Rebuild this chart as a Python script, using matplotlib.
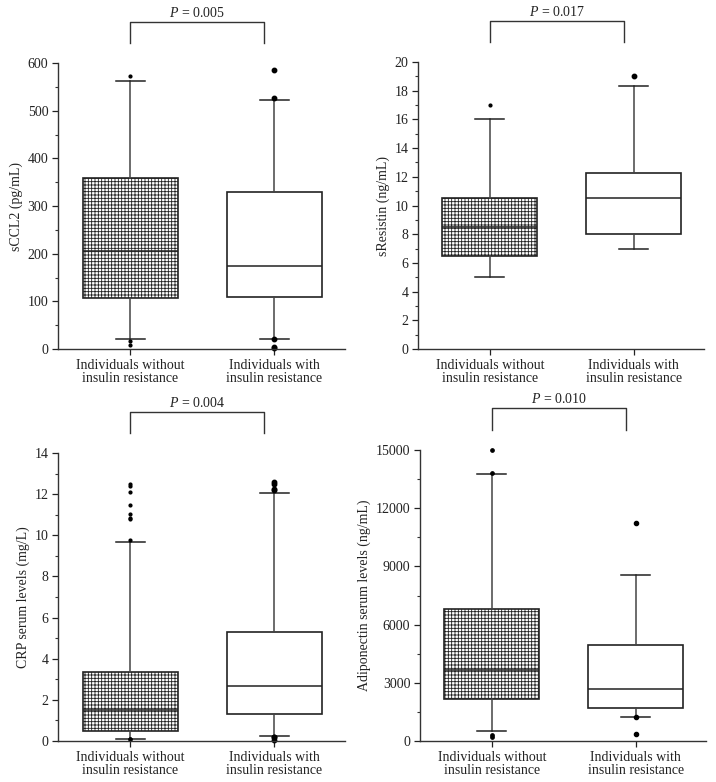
import matplotlib
matplotlib.use("Agg")
import matplotlib.pyplot as plt
from matplotlib.ticker import MultipleLocator
from matplotlib.transforms import blended_transform_factory

plt.rcParams['font.family'] = ['Liberation Serif', 'DejaVu Serif']
plt.rcParams['mathtext.fontset'] = 'custom'
plt.rcParams['mathtext.rm'] = 'Liberation Serif'
plt.rcParams['mathtext.it'] = 'Liberation Serif:italic'
plt.rcParams['hatch.linewidth'] = 0.6
plt.rcParams['hatch.color'] = '#111111'

groups = ["Individuals without\ninsulin resistance", "Individuals with\ninsulin resistance"]

# Panel A: sCCL2 (pg/mL)
ccl2_whislo = [22, 22]
ccl2_q1 = [108, 110]
ccl2_med = [205, 175]
ccl2_q3 = [358, 330]
ccl2_whishi = [563, 522]
ccl2_fliers = [[572, 16, 8], [585, 527, 22, 5, 3]]

# Panel B: sResistin (ng/mL)
res_whislo = [5, 7]
res_q1 = [6.5, 8]
res_med = [8.5, 10.5]
res_q3 = [10.5, 12.25]
res_whishi = [16, 18.3]
res_fliers = [[17], [19]]

# Panel C: CRP (mg/L)
crp_whislo = [0.12, 0.25]
crp_q1 = [0.5, 1.3]
crp_med = [1.5, 2.68]
crp_q3 = [3.35, 5.3]
crp_whishi = [9.65, 12.05]
crp_fliers = [[12.49, 12.41, 12.1, 11.47, 11.03, 10.84, 10.79, 9.77, 0.1, 0.08, 0.12],
              [12.6, 12.5, 12.25, 12.2, 0.2, 0.18, 0.05]]

# Panel D: Adiponectin (ng/mL)
adi_whislo = [500, 1250]
adi_q1 = [2150, 1700]
adi_med = [3650, 2700]
adi_q3 = [6800, 4950]
adi_whishi = [13750, 8550]
adi_fliers = [[15000, 13800, 300, 200], [11250, 1250, 350]]

p_values = ["0.005", "0.017", "0.004", "0.010"]
ylabels = ["sCCL2 (pg/mL)", "sResistin (ng/mL)", "CRP serum levels (mg/L)",
           "Adiponectin serum levels (ng/mL)"]
ylims = [(0, 600), (0, 20), (0, 14), (0, 15000)]
major = [100, 2, 2, 3000]
minor = [50, 1, 1, 1500]

panels = [
    (ccl2_whislo, ccl2_q1, ccl2_med, ccl2_q3, ccl2_whishi, ccl2_fliers),
    (res_whislo, res_q1, res_med, res_q3, res_whishi, res_fliers),
    (crp_whislo, crp_q1, crp_med, crp_q3, crp_whishi, crp_fliers),
    (adi_whislo, adi_q1, adi_med, adi_q3, adi_whishi, adi_fliers),
]
flier_sizes = [(2.0, 3.2), (2.0, 3.2), (2.0, 3.2), (2.4, 3.0)]

W, H = 716, 782
fig = plt.figure(figsize=(W / 100, H / 100), dpi=100)
rects_px = [(58, 63, 345, 349), (418, 62, 704, 349), (58, 453, 345, 741), (420, 450, 706, 741)]

for i, (rect, data) in enumerate(zip(rects_px, panels)):
    l, t, r, b = rect
    ax = fig.add_axes([l / W, 1 - b / H, (r - l) / W, (b - t) / H])
    wl, q1, med, q3, wh, fl = data
    stats = []
    for k in range(2):
        stats.append(dict(whislo=wl[k], q1=q1[k], med=med[k], q3=q3[k], whishi=wh[k],
                          fliers=fl[k], label=groups[k]))
    bp = ax.bxp(stats, positions=[1, 2], widths=0.66, patch_artist=True,
                showfliers=True,
                boxprops=dict(linewidth=1.2, edgecolor='#222222'),
                medianprops=dict(color='#222222', linewidth=1.1),
                whiskerprops=dict(color='#444444', linewidth=1.1),
                capprops=dict(color='#222222', linewidth=1.1),
                flierprops=dict(marker='o', markersize=2.6, markerfacecolor='black',
                                markeredgecolor='black', linestyle='none'))
    for cap in bp['caps']:
        x0, x1 = cap.get_xdata()
        c = (x0 + x1) / 2
        cap.set_xdata([c - 0.1, c + 0.1])
    for k, f in enumerate(bp['fliers']):
        f.set_markersize(flier_sizes[i][k])
        f.set_clip_on(False)
    bp['boxes'][0].set_facecolor('white')
    bp['boxes'][0].set_hatch('+++++')
    bp['boxes'][1].set_facecolor('white')

    ax.set_xlim(0.5, 2.49)
    ax.set_ylim(*ylims[i])
    ax.yaxis.set_major_locator(MultipleLocator(major[i]))
    ax.yaxis.set_minor_locator(MultipleLocator(minor[i]))
    for s in ['top', 'right']:
        ax.spines[s].set_visible(False)
    for s in ['left', 'bottom']:
        ax.spines[s].set_linewidth(1.0)
        ax.spines[s].set_color('#333333')
    ax.tick_params(axis='y', which='major', length=4, width=0.9, labelsize=10, pad=3,
                   colors='#222222')
    ax.tick_params(axis='y', which='minor', length=2, width=0.8, colors='#333333')
    ax.tick_params(axis='x', which='major', length=4, width=0.9, labelsize=10, pad=3,
                   colors='#222222')
    for lab in ax.get_xticklabels():
        lab.set_linespacing(1.0)
    ax.set_ylabel(ylabels[i], fontsize=10, labelpad=3, color='#222222')

    tr = blended_transform_factory(ax.transData, ax.transAxes)
    ax.plot([1.0, 1.0, 1.93, 1.93], [1.07, 1.143, 1.143, 1.07], transform=tr,
            color='#333333', linewidth=1.0, clip_on=False)
    ax.text(1.465, 1.15, r"$\it{P}$ = " + p_values[i], transform=tr, ha='center',
            va='bottom', fontsize=10, color='#222222')

fig.savefig("out.png", dpi=100)
